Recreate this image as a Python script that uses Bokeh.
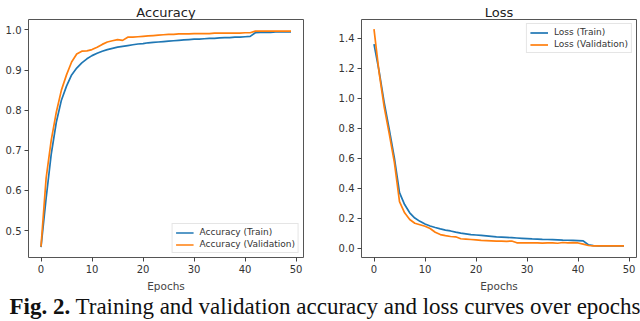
from bokeh.plotting import figure
from bokeh.layouts import row, column
from bokeh.models import Range1d, FixedTicker, Legend, LegendItem, Div, PrintfTickFormatter
from bokeh.embed import file_html
from bokeh.resources import INLINE

epochs = list(range(50))
acc_train = [0.459, 0.580, 0.690, 0.770, 0.825, 0.860, 0.888, 0.905, 0.918, 0.928,
             0.936, 0.942, 0.947, 0.951, 0.954, 0.957, 0.959, 0.961, 0.963, 0.965,
             0.966, 0.968, 0.969, 0.970, 0.971, 0.972, 0.973, 0.974, 0.975, 0.976,
             0.977, 0.977, 0.978, 0.979, 0.979, 0.980, 0.981, 0.981, 0.982, 0.982,
             0.983, 0.984, 0.993, 0.994, 0.994, 0.994, 0.995, 0.995, 0.995, 0.995]
acc_val = [0.460, 0.630, 0.725, 0.795, 0.850, 0.888, 0.920, 0.940, 0.947, 0.948,
           0.951, 0.957, 0.964, 0.970, 0.973, 0.976, 0.974, 0.982, 0.982, 0.983,
           0.984, 0.985, 0.986, 0.987, 0.988, 0.989, 0.989, 0.990, 0.990, 0.990,
           0.991, 0.991, 0.991, 0.991, 0.992, 0.992, 0.992, 0.992, 0.992, 0.992,
           0.993, 0.993, 0.997, 0.997, 0.997, 0.997, 0.997, 0.997, 0.997, 0.997]
loss_train = [1.36, 1.18, 0.97, 0.79, 0.60, 0.37, 0.29, 0.235, 0.200, 0.178,
              0.160, 0.147, 0.137, 0.128, 0.120, 0.114, 0.106, 0.100, 0.095, 0.090,
              0.087, 0.084, 0.081, 0.078, 0.075, 0.073, 0.071, 0.069, 0.067, 0.065,
              0.063, 0.061, 0.060, 0.058, 0.057, 0.056, 0.055, 0.053, 0.052, 0.051,
              0.050, 0.048, 0.022, 0.016, 0.015, 0.015, 0.014, 0.014, 0.014, 0.014]
loss_val = [1.46, 1.17, 0.94, 0.76, 0.57, 0.31, 0.235, 0.190, 0.165, 0.155,
            0.145, 0.130, 0.105, 0.090, 0.083, 0.077, 0.075, 0.062, 0.060, 0.057,
            0.054, 0.051, 0.050, 0.048, 0.046, 0.046, 0.045, 0.047, 0.035, 0.034,
            0.034, 0.034, 0.035, 0.033, 0.034, 0.035, 0.032, 0.037, 0.035, 0.036,
            0.034, 0.026, 0.017, 0.015, 0.014, 0.014, 0.014, 0.014, 0.015, 0.015]
x_ticks = [0, 10, 20, 30, 40, 50]
acc_ticks = [0.5, 0.6, 0.7, 0.8, 0.9, 1.0]
loss_ticks = [0.0, 0.2, 0.4, 0.6, 0.8, 1.0, 1.2, 1.4]

BLUE = "#1f77b4"
ORANGE = "#ff7f0e"
FONT = "DejaVu Sans"


def make_fig(title, yr, yticks, bl, br, bt, bb):
    p = figure(width=320, height=294, output_backend="svg", toolbar_location=None,
               x_range=Range1d(-2.45, 51.45), y_range=Range1d(*yr),
               min_border_left=bl, min_border_right=br, min_border_top=bt,
               min_border_bottom=bb, title=title)
    p.title.align = "center"
    p.title.text_font = FONT
    p.title.text_font_size = "13px"
    p.title.text_font_style = "normal"
    p.title.text_color = "#222222"
    p.title.offset = 0
    p.title.standoff = 0
    p.grid.visible = False
    p.outline_line_color = "#555555"
    p.outline_line_width = 1
    p.outline_line_alpha = 1
    p.xaxis.ticker = FixedTicker(ticks=x_ticks)
    p.yaxis.ticker = FixedTicker(ticks=yticks)
    p.yaxis.formatter = PrintfTickFormatter(format="%.1f")
    for ax in (p.xaxis[0], p.yaxis[0]):
        ax.axis_line_color = None
        ax.major_tick_in = 0
        ax.major_tick_out = 4
        ax.major_tick_line_color = "#444444"
        ax.minor_tick_line_color = None
        ax.major_label_text_font = FONT
        ax.major_label_text_font_size = "10px"
        ax.major_label_text_color = "#333333"
        ax.major_label_standoff = 3
    p.xaxis.axis_label = "Epochs"
    p.xaxis.axis_label_text_font = FONT
    p.xaxis.axis_label_text_font_size = "10.5px"
    p.xaxis.axis_label_text_font_style = "normal"
    p.xaxis.axis_label_text_color = "#444444"
    p.xaxis.axis_label_standoff = 4
    p.border_fill_color = "white"
    return p


p1 = make_fig("Accuracy", (0.433, 1.026), acc_ticks, 28, 17, 16, 35)
r1 = p1.line(epochs, acc_train, line_color=BLUE, line_width=1.7)
r2 = p1.line(epochs, acc_val, line_color=ORANGE, line_width=1.7)
leg1 = Legend(items=[LegendItem(label="Accuracy (Train)", renderers=[r1]),
                     LegendItem(label="Accuracy (Validation)", renderers=[r2])],
              location="bottom_right")
p2 = make_fig("Loss", (-0.063, 1.524), loss_ticks, 41, 4, 19, 34)
r3 = p2.line(epochs, loss_train, line_color=BLUE, line_width=1.7)
r4 = p2.line(epochs, loss_val, line_color=ORANGE, line_width=1.7)
leg2 = Legend(items=[LegendItem(label="Loss (Train)", renderers=[r3]),
                     LegendItem(label="Loss (Validation)", renderers=[r4])],
              location="top_right")
for p, leg in ((p1, leg1), (p2, leg2)):
    leg.label_text_font = FONT
    leg.label_text_font_size = "9px"
    leg.label_text_color = "#333333"
    leg.glyph_width = 18
    leg.glyph_height = 9
    leg.label_height = 9
    leg.spacing = 2
    leg.padding = 3
    leg.margin = 4
    leg.label_standoff = 6
    leg.border_line_color = "#cccccc"
    leg.background_fill_alpha = 0.9
    p.add_layout(leg)

caption = Div(text="<b>Fig. 2.</b> Training and validation accuracy and loss curves over epochs",
              width=640, height=27,
              styles={"font-family": "Liberation Serif", "font-size": "23px",
                      "white-space": "nowrap", "line-height": "16px", "color": "#111111",
                      "text-align": "center", "width": "640px"})

layout = column(row(p1, p2), caption)
open("out.html", "w").write(file_html(layout, INLINE))
